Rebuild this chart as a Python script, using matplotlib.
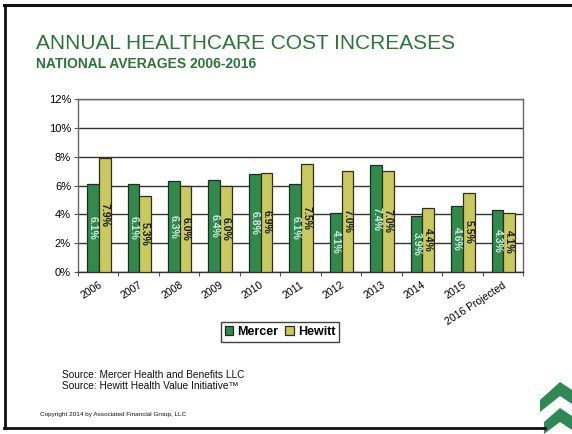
import matplotlib
matplotlib.use("Agg")
import matplotlib.pyplot as plt
from matplotlib.patches import Polygon
import numpy as np

categories = ["2006", "2007", "2008", "2009", "2010", "2011", "2012", "2013",
              "2014", "2015", "2016 Projected"]
mercer = [6.1, 6.1, 6.3, 6.4, 6.8, 6.1, 4.1, 7.4, 3.9, 4.6, 4.3]
hewitt = [7.9, 5.3, 6.0, 6.0, 6.9, 7.5, 7.0, 7.0, 4.4, 5.5, 4.1]
mercer_labels = ["6.1%", "6.1%", "6.3%", "6.4%", "6.8%", "6.1%", "4.1%", "7.4%", "3.9%", "4.6%", "4.3%"]
hewitt_labels = ["7.9%", "5.3%", "6.0%", "6.0%", "6.9%", "7.5%", "7.0%", "7.0%", "4.4%", "5.5%", "4.1%"]
yticks = [0, 2, 4, 6, 8, 10, 12]

plt.rcParams['font.family'] = ['Liberation Sans', 'DejaVu Sans']

W, H = 572, 434
fig = plt.figure(figsize=(W / 100, H / 100), dpi=100)

def fx(px):
    return px / W

def fy(py):
    return 1 - py / H

# slide frame
fig.add_artist(plt.Line2D([fx(4), fx(572)], [fy(5), fy(5)], color='#111111', lw=2.2))
fig.add_artist(plt.Line2D([fx(5), fx(5)], [fy(5), fy(428)], color='#111111', lw=2.0))
fig.add_artist(plt.Line2D([fx(4), fx(545)], [fy(428), fy(428)], color='#111111', lw=2.0))

ax = fig.add_axes([fx(78), fy(271.7), fx(523) - fx(78), fy(99.3) - fy(271.7)])

green = '#2f8a4c'
yellow = '#c9c95e'
x = np.arange(len(categories))
w = 0.29
b1 = ax.bar(x - 0.13, mercer, w, color=green, edgecolor='#1e2e22', linewidth=0.9,
            label='Mercer', zorder=3)
b2 = ax.bar(x + 0.16, hewitt, w, color=yellow, edgecolor='#2e2e1e', linewidth=0.9,
            label='Hewitt', zorder=3)

for xi, v, t in zip(x - 0.13, mercer, mercer_labels):
    ax.text(xi, v / 2, t, rotation=270, ha='center', va='center', fontsize=7.5,
            fontweight='bold', color='#cfeee6', zorder=4)
for xi, v, t in zip(x + 0.16, hewitt, hewitt_labels):
    ax.text(xi, v / 2, t, rotation=270, ha='center', va='center', fontsize=7.5,
            fontweight='bold', color='#1a1a10', zorder=4)

ax.set_xlim(-0.5, len(categories) - 0.5)
ax.set_ylim(0, 12)
ax.set_yticks(yticks)
ax.set_yticklabels([f"{t}%" for t in yticks], fontsize=8)
ax.yaxis.grid(True, color='#333333', linewidth=1.0, zorder=0)
ax.tick_params(axis='y', length=3, width=0.8, color='#555555', pad=2)

ax.set_xticks(np.arange(-0.5, len(categories), 1.0))
ax.set_xticklabels([])
ax.tick_params(axis='x', which='major', length=3, width=0.8, color='#555555', direction='out')
ax.set_xticks(x, minor=True)
ax.set_xticklabels(categories, minor=True, rotation=33, ha='right',
                   rotation_mode='anchor', fontsize=7.5)
ax.tick_params(axis='x', which='minor', length=0, pad=6)

for s in ax.spines.values():
    s.set_color('#666666')
    s.set_linewidth(1.0)
ax.spines['bottom'].set_color('#333333')

leg = fig.legend(handles=[b1, b2], labels=['Mercer', 'Hewitt'], ncol=2,
                 loc='center', bbox_to_anchor=(fx(280), fy(332)),
                 prop={'weight': 'bold', 'size': 9}, frameon=True,
                 fancybox=False, edgecolor='#111111', handlelength=0.7,
                 handleheight=0.7, handletextpad=0.35, columnspacing=0.5,
                 borderpad=0.3, borderaxespad=0)
leg.get_frame().set_linewidth(1.0)

title_color = '#2a7538'
fig.text(fx(36), fy(49), "ANNUAL HEALTHCARE COST INCREASES", fontsize=15,
         color=title_color, va='baseline', ha='left')
fig.text(fx(36), fy(68), "NATIONAL AVERAGES 2006-2016", fontsize=10,
         fontweight='bold', color=title_color, va='baseline', ha='left')

fig.text(fx(62), fy(378), "Source: Mercer Health and Benefits LLC", fontsize=7.3,
         va='baseline', ha='left', color='#111111')
fig.text(fx(62), fy(389), "Source: Hewitt Health Value Initiative\u2122", fontsize=7.3,
         va='baseline', ha='left', color='#111111')
fig.text(fx(40), fy(416), "Copyright 2014 by Associated Financial Group, LLC",
         fontsize=4.6, va='baseline', ha='left', color='#111111')

# tree logo (decoration)
tree = '#2e8a52'
shapes = [
    [(560, 382), (572, 390), (572, 404), (560, 396)],
    [(560, 382), (560, 396), (540, 412), (540, 400)],
    [(560, 408), (572, 416), (572, 430), (560, 422)],
    [(560, 408), (560, 422), (544, 434), (544, 422)],
]
for pts in shapes:
    fig.add_artist(Polygon([(fx(a), fy(b)) for a, b in pts], closed=True,
                           facecolor=tree, edgecolor='none', transform=fig.transFigure))

fig.savefig("out.png", dpi=100, facecolor='white')
